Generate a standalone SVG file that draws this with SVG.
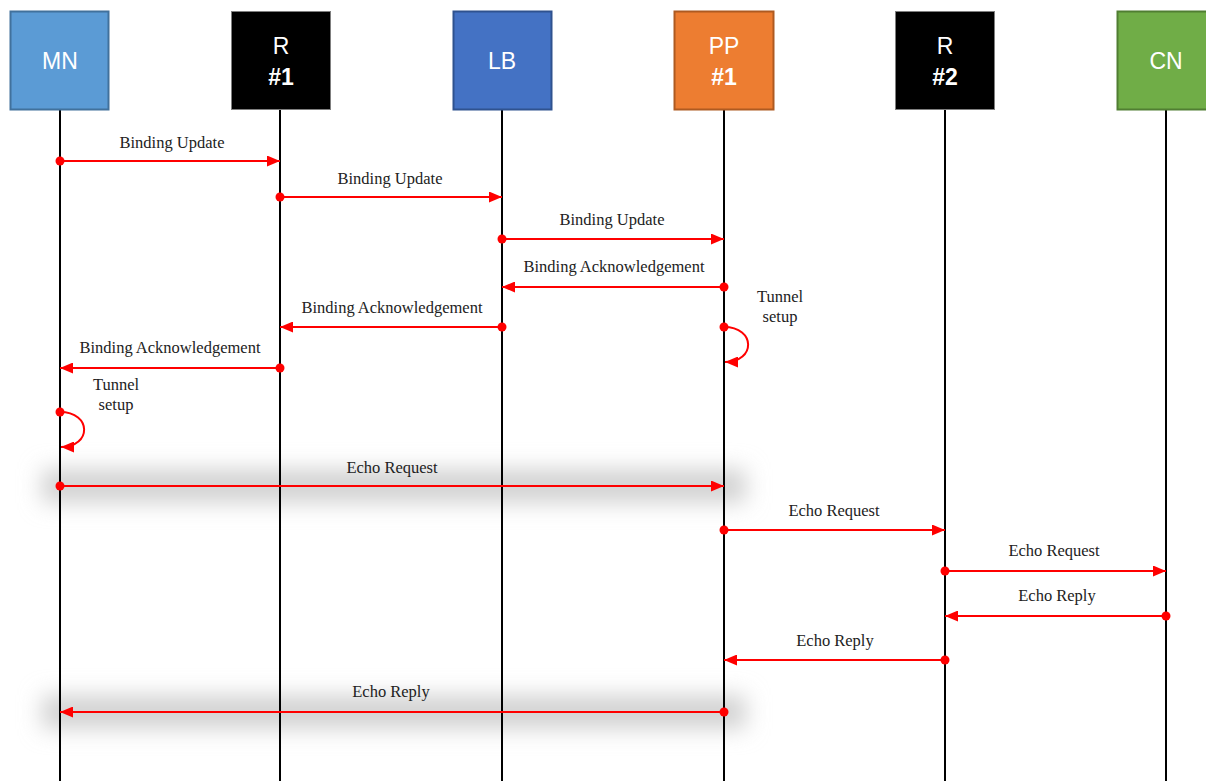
<svg xmlns="http://www.w3.org/2000/svg" width="1206" height="781" viewBox="0 0 1206 781">
  <defs>
    <marker id="head" viewBox="0 0 13 11" refX="13" refY="5.5" markerWidth="13" markerHeight="11" markerUnits="userSpaceOnUse" orient="auto">
      <path d="M0,0 L13,5.5 L0,11 Z" fill="#ff0000"/>
    </marker>
    <marker id="dot" viewBox="0 0 10 10" refX="5" refY="5" markerWidth="10" markerHeight="10" markerUnits="userSpaceOnUse">
      <circle cx="5" cy="5" r="4.5" fill="#ff0000"/>
    </marker>
    <filter id="haze" x="-10%" y="-150%" width="120%" height="400%">
      <feGaussianBlur stdDeviation="11"/>
    </filter>
    <style>
      .hdr { font-family: "Liberation Sans", Arial, sans-serif; font-size: 23px; fill: #ffffff; text-anchor: middle; }
      .bold { font-weight: bold; }
      .life { stroke: #000000; stroke-width: 2; fill: none; }
      .msg { stroke: #ff0000; stroke-width: 2; fill: none; marker-start: url(#dot); marker-end: url(#head); }
      .loop { stroke: #ff0000; stroke-width: 2; fill: none; marker-start: url(#dot); marker-end: url(#head); }
      .lbl { font-family: "Liberation Serif", "Times New Roman", serif; font-size: 16.5px; fill: #222222; text-anchor: middle; }
      .band { fill: #d2d2d2; filter: url(#haze); }
    </style>
  </defs>

  <rect width="1206" height="781" fill="#ffffff"/>

  <!-- soft highlight bands behind the two long echo messages -->
  <rect class="band" x="42" y="469" width="704" height="34"/>
  <rect class="band" x="42" y="695" width="704" height="34"/>

  <!-- lifelines -->
  <g id="lifelines">
    <line class="life" x1="60" y1="110" x2="60" y2="781"/>
    <line class="life" x1="280" y1="110" x2="280" y2="781"/>
    <line class="life" x1="502" y1="110" x2="502" y2="781"/>
    <line class="life" x1="724" y1="110" x2="724" y2="781"/>
    <line class="life" x1="945" y1="110" x2="945" y2="781"/>
    <line class="life" x1="1166" y1="110" x2="1166" y2="781"/>
  </g>

  <!-- participants -->
  <g id="node-mn">
    <rect x="10.5" y="11.5" width="98" height="98" fill="#5b9bd5" stroke="#41719c" stroke-width="2"/>
    <text class="hdr" x="60" y="69">MN</text>
  </g>
  <g id="node-r1">
    <rect x="231.5" y="11.5" width="99" height="98" fill="#000000" stroke="#7f7f7f" stroke-width="1"/>
    <text class="hdr" x="281" y="54">R</text>
    <text class="hdr bold" x="281" y="85">#1</text>
  </g>
  <g id="node-lb">
    <rect x="453.5" y="11.5" width="98" height="98" fill="#4472c4" stroke="#2f528f" stroke-width="2"/>
    <text class="hdr" x="502" y="69">LB</text>
  </g>
  <g id="node-pp">
    <rect x="674.5" y="11.5" width="99" height="98" fill="#ed7d31" stroke="#ae5a21" stroke-width="2"/>
    <text class="hdr" x="724" y="54">PP</text>
    <text class="hdr bold" x="724" y="85">#1</text>
  </g>
  <g id="node-r2">
    <rect x="895.5" y="11.5" width="99" height="98" fill="#000000" stroke="#7f7f7f" stroke-width="1"/>
    <text class="hdr" x="945" y="54">R</text>
    <text class="hdr bold" x="945" y="85">#2</text>
  </g>
  <g id="node-cn">
    <rect x="1117.5" y="11.5" width="98" height="98" fill="#70ad47" stroke="#507e32" stroke-width="2"/>
    <text class="hdr" x="1166" y="69">CN</text>
  </g>

  <!-- messages -->
  <g id="connectors">
    <line class="msg" x1="60" y1="161" x2="280" y2="161"/>
    <line class="msg" x1="280" y1="197" x2="502" y2="197"/>
    <line class="msg" x1="502" y1="239" x2="724" y2="239"/>
    <line class="msg" x1="724" y1="287" x2="502" y2="287"/>
    <line class="msg" x1="502" y1="327" x2="280" y2="327"/>
    <line class="msg" x1="280" y1="368" x2="60" y2="368"/>
    <path class="loop" d="M724,327 C756,327 756,362 725,362"/>
    <path class="loop" d="M60,412 C92,412 92,447 61,447"/>
    <line class="msg" x1="60" y1="486" x2="724" y2="486"/>
    <line class="msg" x1="724" y1="530" x2="945" y2="530"/>
    <line class="msg" x1="945" y1="571" x2="1166" y2="571"/>
    <line class="msg" x1="1166" y1="616" x2="945" y2="616"/>
    <line class="msg" x1="945" y1="660" x2="724" y2="660"/>
    <line class="msg" x1="724" y1="712" x2="60" y2="712"/>
  </g>

  <!-- message labels -->
  <g id="labels">
    <text class="lbl" x="172" y="148">Binding Update</text>
    <text class="lbl" x="390" y="184">Binding Update</text>
    <text class="lbl" x="612" y="225">Binding Update</text>
    <text class="lbl" x="614" y="272">Binding Acknowledgement</text>
    <text class="lbl" x="392" y="313">Binding Acknowledgement</text>
    <text class="lbl" x="170" y="353">Binding Acknowledgement</text>
    <text class="lbl" x="780" y="302">Tunnel</text>
    <text class="lbl" x="780" y="322">setup</text>
    <text class="lbl" x="116" y="390">Tunnel</text>
    <text class="lbl" x="116" y="410">setup</text>
    <text class="lbl" x="392" y="473">Echo Request</text>
    <text class="lbl" x="834" y="516">Echo Request</text>
    <text class="lbl" x="1054" y="556">Echo Request</text>
    <text class="lbl" x="1057" y="601">Echo Reply</text>
    <text class="lbl" x="835" y="646">Echo Reply</text>
    <text class="lbl" x="391" y="697">Echo Reply</text>
  </g>
</svg>
